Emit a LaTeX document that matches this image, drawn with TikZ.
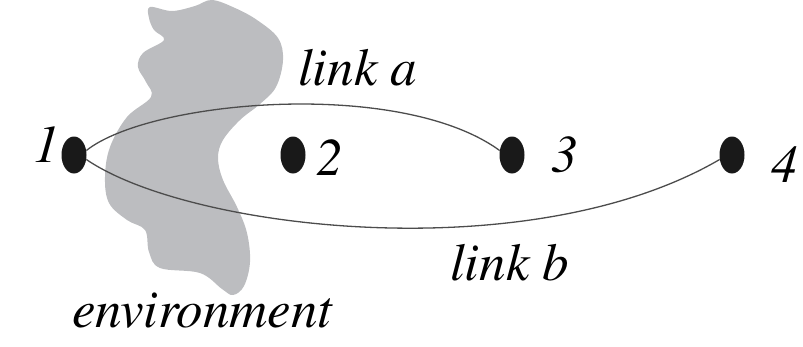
\documentclass[tikz,border=0pt]{standalone}
\usepackage[T1]{fontenc}
\usepackage{times}
\usetikzlibrary{shapes.geometric}
\begin{document}
\begin{tikzpicture}[x=1pt,y=-1pt,
  dot/.style={fill=black!90,ellipse,inner sep=0pt,minimum width=25pt,minimum height=37pt},
  lbl/.style={anchor=base west,inner sep=0pt,font=\fontsize{53}{60}\selectfont\itshape},
  link/.style={draw=black!70,line width=1.3pt}]
\useasboundingbox (0,0) rectangle (803,346);
\fill[fill={rgb,255:red,188;green,189;blue,192}] plot[smooth cycle,tension=0.6] coordinates {
 (150,7) (172,11) (195,6) (212,0) (235,8) (257,20) (278,38) (283,60) (276,87) (260,104)
 (240,120) (223,140) (218,158) (223,180) (237,207) (247,233) (250,262) (244,286)
 (233,295) (222,289) (200,273) (160,268) (149,252) (145,230) (127,220) (109,203)
 (105,177) (110,147) (127,117) (151,97) (146,82) (138,67) (143,53) (164,40) (154,30) (149,18)};
\node[dot] (n1) at (74,155) {};
\node[dot] (n2) at (293,155) {};
\node[dot] (n3) at (512,155) {};
\node[dot] (n4) at (732,155) {};
\node[lbl] (l1) at (33,162) {1};
\node[lbl] (l2) at (316,175) {2};
\node[lbl] (l3) at (551,172) {3};
\node[lbl] (l4) at (771,182) {4};
\path[link] (n1.20) .. controls (150,100) and (400,78) .. (n3.160);
\path[link] (n1.-20) .. controls (190,230) and (530,270) .. (n4.-160);
\node[lbl] (la) at (298,85) {link a};
\node[lbl] (lb) at (450,280) {link b};
\node[lbl] (le) at (72,327) {environment};
\end{tikzpicture}
\end{document}
